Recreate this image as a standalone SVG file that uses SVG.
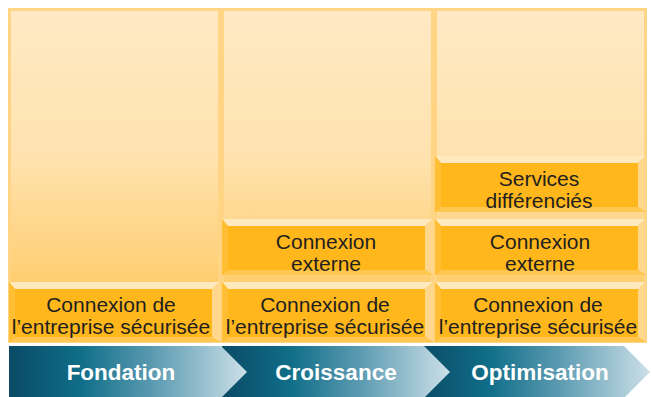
<svg xmlns="http://www.w3.org/2000/svg" width="651" height="397" viewBox="0 0 651 397">
<defs>
<linearGradient id="colg" x1="0" y1="0" x2="0" y2="1">
<stop offset="0" stop-color="#FFE9C4"/>
<stop offset="0.45" stop-color="#FFE2AE"/>
<stop offset="1" stop-color="#FFC452"/>
</linearGradient>
<linearGradient id="chg" x1="0" y1="0" x2="1" y2="0">
<stop offset="0" stop-color="#0A4A66"/>
<stop offset="0.3" stop-color="#106E88"/>
<stop offset="0.6" stop-color="#5A9AB1"/>
<stop offset="1" stop-color="#CCE0E8"/>
</linearGradient>
</defs>
<style>
.col{fill:url(#colg);stroke:#FFD585;stroke-width:3}
.face{fill:#FFB71B}
.bt{fill:#FFEAC0}
.br{fill:#FFD88E}
.bb{fill:#FFC750}
.bl{fill:#FFBE34}
.t{font-family:"Liberation Sans",Arial,sans-serif;font-size:21px;fill:#231F20;text-anchor:middle}
.ct{font-family:"Liberation Sans",Arial,sans-serif;font-size:22.5px;font-weight:bold;fill:#FFFFFF;text-anchor:middle}
.ch{fill:url(#chg)}
</style>
<g id="columns">
<rect class="col" x="9.5" y="9.5" width="210" height="332"/>
<rect class="col" x="222.5" y="9.5" width="210" height="332"/>
<rect class="col" x="435.5" y="9.5" width="210" height="332"/>
</g>
<g id="c1-secure">
<rect class="face" x="9" y="282" width="211" height="60"/>
<polygon class="bt" points="9,282 220,282 212,289 15,289"/>
<polygon class="br" points="220,282 220,342 212,337 212,289"/>
<polygon class="bb" points="9,342 220,342 212,337 15,337"/>
<polygon class="bl" points="9,282 15,289 15,337 9,342"/>
<text class="t" x="111" y="312">Connexion de</text>
<text class="t" x="111" y="334">l’entreprise sécurisée</text>
</g>
<g id="c2-secure">
<rect class="face" x="222" y="282" width="211" height="60"/>
<polygon class="bt" points="222,282 433,282 425,289 228,289"/>
<polygon class="br" points="433,282 433,342 425,337 425,289"/>
<polygon class="bb" points="222,342 433,342 425,337 228,337"/>
<polygon class="bl" points="222,282 228,289 228,337 222,342"/>
<text class="t" x="325" y="312">Connexion de</text>
<text class="t" x="325" y="334">l’entreprise sécurisée</text>
</g>
<g id="c2-externe">
<rect class="face" x="222" y="219" width="211" height="56"/>
<polygon class="bt" points="222,219 433,219 425,226 228,226"/>
<polygon class="br" points="433,219 433,275 425,270 425,226"/>
<polygon class="bb" points="222,275 433,275 425,270 228,270"/>
<polygon class="bl" points="222,219 228,226 228,270 222,275"/>
<text class="t" x="326" y="249">Connexion</text>
<text class="t" x="326" y="271">externe</text>
</g>
<g id="c3-secure">
<rect class="face" x="435" y="282" width="211" height="60"/>
<polygon class="bt" points="435,282 646,282 638,289 441,289"/>
<polygon class="br" points="646,282 646,342 638,337 638,289"/>
<polygon class="bb" points="435,342 646,342 638,337 441,337"/>
<polygon class="bl" points="435,282 441,289 441,337 435,342"/>
<text class="t" x="538" y="312">Connexion de</text>
<text class="t" x="538" y="334">l’entreprise sécurisée</text>
</g>
<g id="c3-externe">
<rect class="face" x="435" y="219" width="211" height="56"/>
<polygon class="bt" points="435,219 646,219 638,226 441,226"/>
<polygon class="br" points="646,219 646,275 638,270 638,226"/>
<polygon class="bb" points="435,275 646,275 638,270 441,270"/>
<polygon class="bl" points="435,219 441,226 441,270 435,275"/>
<text class="t" x="540" y="249">Connexion</text>
<text class="t" x="540" y="271">externe</text>
</g>
<g id="c3-services">
<rect class="face" x="435" y="156" width="211" height="56"/>
<polygon class="bt" points="435,156 646,156 638,163 441,163"/>
<polygon class="br" points="646,156 646,212 638,207 638,163"/>
<polygon class="bb" points="435,212 646,212 638,207 441,207"/>
<polygon class="bl" points="435,156 441,163 441,207 435,212"/>
<text class="t" x="539" y="186">Services</text>
<text class="t" x="539" y="208">différenciés</text>
</g>
<g id="chevrons">
<g id="optimisation">
<polygon class="ch" points="420,346 624,346 650,372 624,398 420,398"/>
<text class="ct" x="540" y="380">Optimisation</text>
</g>
<g id="croissance">
<polygon class="ch" points="222,346 424,346 450,372 424,398 222,398"/>
<text class="ct" x="336" y="380">Croissance</text>
</g>
<g id="fondation">
<polygon class="ch" points="9,346 221,346 247,372 221,398 9,398"/>
<text class="ct" x="121" y="380">Fondation</text>
</g>
</g>
</svg>
